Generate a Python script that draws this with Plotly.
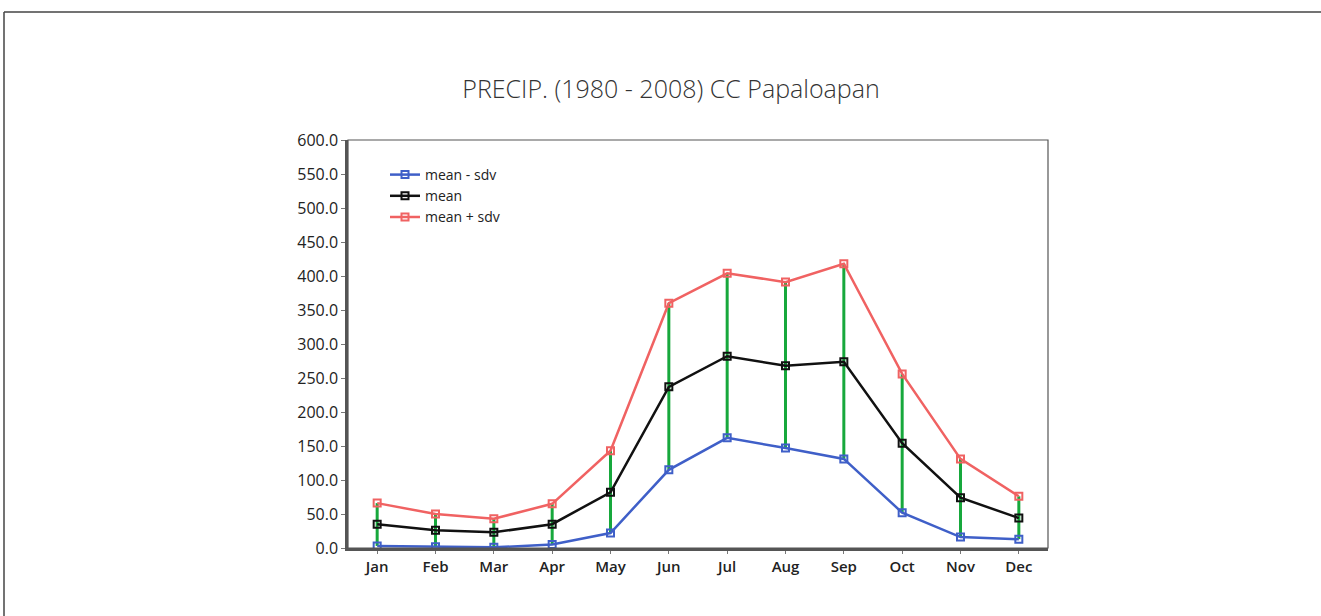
import plotly.graph_objects as go

months = ["Jan", "Feb", "Mar", "Apr", "May", "Jun", "Jul", "Aug", "Sep", "Oct", "Nov", "Dec"]
mean_minus_sdv = [3, 2, 1, 5, 22, 115, 162, 147, 131, 52, 16, 13]
mean_vals = [35, 26, 23, 35, 82, 237, 282, 268, 274, 154, 74, 44]
mean_plus_sdv = [66, 50, 43, 65, 143, 360, 404, 391, 418, 256, 131, 76]
y_ticks = [0, 50, 100, 150, 200, 250, 300, 350, 400, 450, 500, 550, 600]

W, H = 1321, 616
L, R, T, B = 348, 1048, 140, 548

fig = go.Figure()

# green range bars
gx, gy = [], []
for m, lo, hi in zip(months, mean_minus_sdv, mean_plus_sdv):
    gx += [m, m, None]
    gy += [lo, hi, None]
fig.add_trace(go.Scatter(x=gx, y=gy, mode="lines", line=dict(color="#17a83c", width=3),
                         showlegend=False, hoverinfo="skip"))

def series(name, y, color):
    fig.add_trace(go.Scatter(
        x=months, y=y, name=name, mode="lines+markers",
        line=dict(color=color, width=2.5),
        marker=dict(symbol="square-open", size=7, color=color, line=dict(width=2, color=color)),
    ))

series("mean - sdv", mean_minus_sdv, "#3f5fc8")
series("mean", mean_vals, "#111111")
series("mean + sdv", mean_plus_sdv, "#f06262")

# outer frame lines
fx0 = (4 - L) / (R - L)
fy_top = (B - 12) / (B - T)
fy_bot = (B - 616) / (B - T)
fx_right = (W - L) / (R - L)
fig.add_shape(type="line", xref="paper", yref="paper", x0=fx0, x1=fx_right, y0=fy_top, y1=fy_top,
              line=dict(color="#444444", width=1.5))
fig.add_shape(type="line", xref="paper", yref="paper", x0=fx0, x1=fx0, y0=fy_top, y1=fy_bot,
              line=dict(color="#444444", width=1.5))

fig.update_layout(
    width=W, height=H,
    margin=dict(l=L, r=W - R, t=T, b=H - B),
    paper_bgcolor="white", plot_bgcolor="white",
    font=dict(family="Open Sans", color="#222222"),
    title=dict(text="PRECIP. (1980 - 2008) CC Papaloapan", x=671 / W, xanchor="center",
               y=1 - 89 / H, yanchor="middle",
               font=dict(size=25, color="#333333", family="Open Sans", weight=300)),
    legend=dict(x=(385 - L) / (R - L), y=(B - 159) / (B - T), xanchor="left", yanchor="top",
                bgcolor="rgba(0,0,0,0)", font=dict(size=14, color="#222222"),
                tracegroupgap=0, itemwidth=30),
    showlegend=True,
)
fig.update_xaxes(type="category", range=[-0.5, 11.5], showline=True, linecolor="#555555", linewidth=2.5,
                 mirror=False, ticks="outside", ticklen=3, tickcolor="#777777",
                 tickfont=dict(size=15, color="#222222", family="Open Sans", weight=600),
                 showgrid=False, zeroline=False)
fig.update_yaxes(range=[0, 600], tickvals=y_ticks, ticktext=[f"{v:.1f}" for v in y_ticks],
                 showline=True, linecolor="#555555", linewidth=2.5, ticks="outside", ticklen=4,
                 tickcolor="#777777", tickfont=dict(size=16, color="#222222", family="Open Sans"),
                 showgrid=False, zeroline=False)
# thin top/right frame of plot area
fig.add_shape(type="rect", xref="paper", yref="paper", x0=0, x1=1, y0=0, y1=1,
              line=dict(color="#555555", width=1.2), layer="above")

fig.write_html("out.html", config={"displayModeBar": False},
               post_script="document.body.style.margin='0';document.body.style.overflow='hidden';")
